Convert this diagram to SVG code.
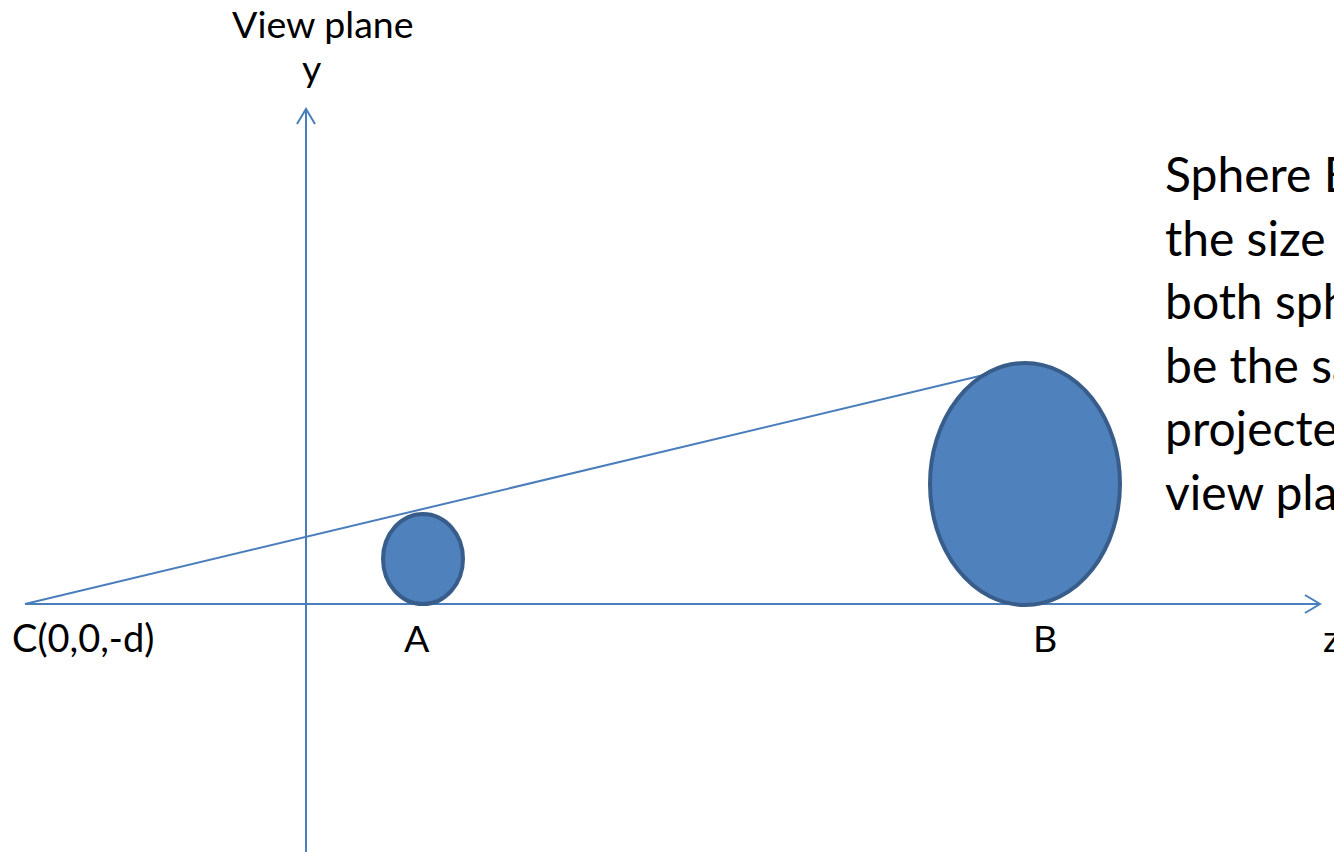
<svg xmlns="http://www.w3.org/2000/svg" width="1334" height="852" viewBox="0 0 1334 852">
<style>
.ax{stroke:#4a7ebb;stroke-width:2;fill:none}
.sph{fill:#4f81bd;stroke:#385d8a;stroke-width:4}
.lbl{font-family:"Lato","Open Sans",sans-serif;fill:#000}
</style>
<rect width="1334" height="852" fill="#fff"/>
<g id="connectors">
<line class="ax" x1="306" y1="852" x2="306" y2="109"/>
<polyline class="ax" points="297,124 306,109 315,124"/>
<line class="ax" x1="25" y1="604" x2="1320" y2="604"/>
<polyline class="ax" points="1305,595 1320,604 1305,613"/>
<line class="ax" x1="25" y1="604" x2="988" y2="374"/>
</g>
<g id="sphereA"><ellipse class="sph" cx="423" cy="559" rx="40" ry="45"/></g>
<g id="sphereB"><ellipse class="sph" cx="1025" cy="484" rx="95" ry="121"/></g>
<g id="labels" class="lbl">
<text x="232" y="38" font-size="37.5">View plane</text>
<text x="302" y="82" font-size="37.5">y</text>
<text x="12" y="652" font-size="38">C(0,0,-d)</text>
<text x="404" y="652" font-size="37.5">A</text>
<text x="1033" y="652" font-size="37.5">B</text>
<text x="1323" y="652" font-size="37.5">z</text>
</g>
<g id="note" class="lbl" font-size="48">
<text x="1165" y="192">Sphere B is twice</text>
<text x="1165" y="256">the size of A, but</text>
<text x="1165" y="319">both spheres will</text>
<text x="1165" y="383">be the same size</text>
<text x="1165" y="446">projected on the</text>
<text x="1165" y="510">view plane</text>
</g>
</svg>
